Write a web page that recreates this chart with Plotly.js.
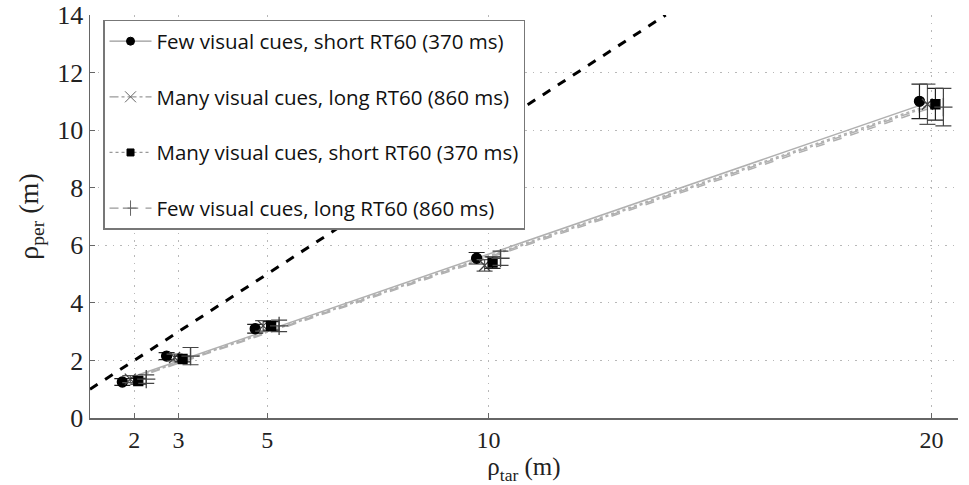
<!DOCTYPE html>
<html><head><meta charset="utf-8">
<script src="https://cdn.plot.ly/plotly-3.0.1.min.js"></script>
<style>html,body{margin:0;padding:0;background:#fff;}#chart{width:969px;height:485px;}</style>
</head><body><div id="chart"></div>
<script>
// target distances (m)
const targets = [2, 3, 5, 10, 20];
// horizontal offsets for display of the four conditions
const offsets = [-0.27, -0.09, 0.09, 0.27];

const seriesNames = [
  "Few visual cues, short RT60 (370 ms)",
  "Many visual cues, long RT60 (860 ms)",
  "Many visual cues, short RT60 (370 ms)",
  "Few visual cues, long RT60 (860 ms)"
];

// perceived distance means
const fewShort  = [1.25, 2.15, 3.10, 5.55, 11.00];
const manyLong  = [1.35, 2.10, 3.20, 5.30, 10.90];
const manyShort = [1.28, 2.05, 3.20, 5.40, 10.90];
const fewLong   = [1.35, 2.15, 3.20, 5.55, 10.80];

// error bar half-widths
const errFewShort  = [0.12, 0.12, 0.15, 0.20, 0.60];
const errManyLong  = [0.12, 0.12, 0.18, 0.20, 0.70];
const errManyShort = [0.10, 0.10, 0.15, 0.20, 0.55];
const errFewLong   = [0.15, 0.30, 0.20, 0.25, 0.65];

// regression fit lines (endpoints)
const fitX = [2, 20];
const fitFewShort  = [1.45, 11.00];
const fitManyLong  = [1.40, 10.85];
const fitManyShort = [1.42, 10.90];
const fitFewLong   = [1.38, 10.78];

// identity reference line
const refX = [1, 14];
const refY = [1, 14];

const xTicks = [2, 3, 5, 10, 20];
const yTicks = [0, 2, 4, 6, 8, 10, 12, 14];

const means = [fewShort, manyLong, manyShort, fewLong];
const errs = [errFewShort, errManyLong, errManyShort, errFewLong];
const fits = [fitFewShort, fitManyLong, fitManyShort, fitFewLong];
const dashes = ["solid", "dashdot", "dot", "dash"];
const symbols = ["circle", "x-thin-open", "square", "cross-thin-open"];
const mColors = ["#000", "#444", "#000", "#444"];
const mSizes = [10, 11, 9, 13];
const eColors = ["#222", "#555", "#222", "#444"];

const traces = [];
traces.push({x: refX, y: refY, mode: "lines", line: {color: "#000", width: 3, dash: "dash"}, showlegend: false, hoverinfo: "skip"});
for (let i = 0; i < 4; i++) {
  traces.push({x: fitX, y: fits[i], mode: "lines", line: {color: "#b0b0b0", width: 1.5, dash: dashes[i]}, showlegend: false});
}
for (let i = 0; i < 4; i++) {
  traces.push({
    x: targets.map(t => t + offsets[i]), y: means[i], mode: "markers",
    marker: {symbol: symbols[i], size: mSizes[i], color: mColors[i], line: {color: mColors[i], width: 1.3}},
    error_y: {type: "data", array: errs[i], visible: true, color: eColors[i], thickness: 1.2, width: 8},
    showlegend: false
  });
}
// legend entries
for (let i = 0; i < 4; i++) {
  traces.push({
    x: [null], y: [null], mode: "lines+markers", name: seriesNames[i], legendgroup: "g" + i,
    line: {color: "#999", width: 1.2, dash: dashes[i]},
    marker: {symbol: symbols[i], size: i === 0 ? 8 : (i === 2 ? 7 : 11), color: i === 1 || i === 3 ? "#666" : "#000", line: {color: i === 1 || i === 3 ? "#666" : "#000", width: 1}}
  });
}

const serif = "Liberation Serif, Times New Roman, serif";
const layout = {
  width: 969, height: 485,
  margin: {l: 90, r: 11, t: 15, b: 67},
  paper_bgcolor: "#fff", plot_bgcolor: "#fff",
  showlegend: true,
  legend: {
    x: 0.015, y: 0.988, xanchor: "left", yanchor: "top",
    bgcolor: "#fff", bordercolor: "#777", borderwidth: 1.5,
    font: {family: "Open Sans, Noto Sans, sans-serif", size: 20.5, color: "#111"},
    traceorder: "grouped", tracegroupgap: 26, itemwidth: 42
  },
  xaxis: {
    range: [1, 20.6], tickvals: xTicks, ticktext: xTicks.map(String),
    showline: true, linecolor: "#666", linewidth: 1.5,
    ticks: "inside", ticklen: 5, tickcolor: "#666",
    showgrid: true, gridcolor: "#b8b8b8", griddash: "1.5px,6px", gridwidth: 1.2,
    zeroline: false,
    tickfont: {family: serif, size: 24, color: "#222"},
    title: {text: "ρ<sub>tar</sub> (m)", font: {family: serif, size: 25, color: "#222"}, standoff: 3}
  },
  yaxis: {
    range: [0, 14], tickvals: yTicks,
    showline: true, linecolor: "#666", linewidth: 1.5,
    ticks: "inside", ticklen: 5, tickcolor: "#666",
    showgrid: true, gridcolor: "#b8b8b8", griddash: "1.5px,6px", gridwidth: 1.2,
    zeroline: false,
    tickfont: {family: serif, size: 26, color: "#222"},
    title: {text: "ρ<sub>per</sub> (m)", font: {family: serif, size: 28, color: "#222"}, standoff: 10}
  }
};
Plotly.newPlot("chart", traces, layout, {staticPlot: true, displayModeBar: false});
</script></body></html>
